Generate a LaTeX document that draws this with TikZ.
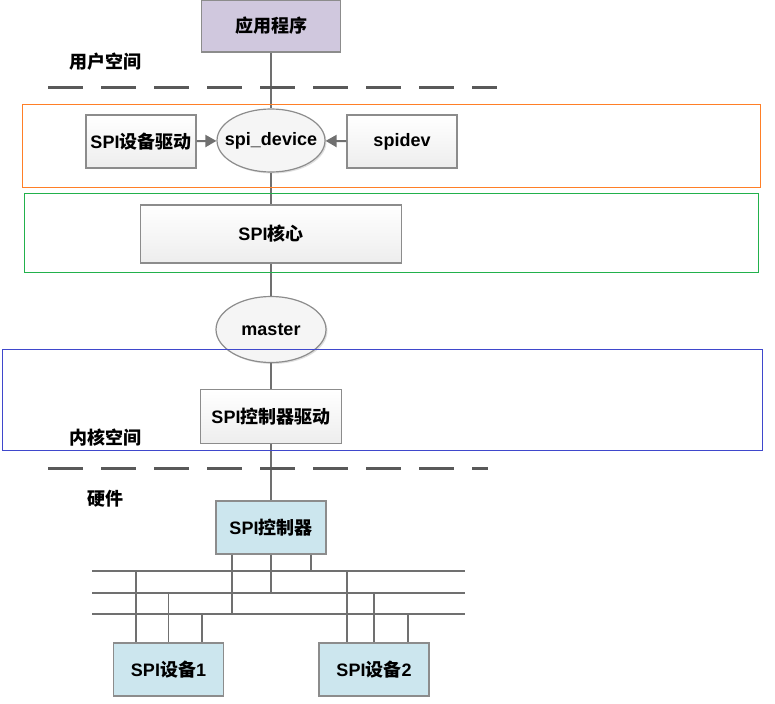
\documentclass[tikz,border=0pt]{standalone}
\usepackage{fontspec}
\usetikzlibrary{shapes.geometric,arrows.meta,shadows}
\setmainfont{Liberation Sans}
\newfontfamily\cjk{Noto Sans CJK SC Bold}
\newcommand\zh[1]{{\cjk #1}}
\definecolor{linkgray}{HTML}{707070}
\definecolor{boxedge}{HTML}{8C8C8C}
\definecolor{appfill}{HTML}{D0C8DE}
\definecolor{hwfill}{HTML}{CCE6EE}
\definecolor{userorange}{HTML}{FF7F27}
\definecolor{coregreen}{HTML}{22B14C}
\definecolor{kernblue}{HTML}{3F48CC}

\begin{document}
\begin{tikzpicture}[x=1pt,y=-1pt,
  label font/.style={font=\bfseries\fontsize{18}{21}\selectfont},
  plainbox/.style={draw=boxedge,line width=1.2pt,label font,inner sep=0pt,minimum height=53pt},
  swbox/.style={plainbox,top color=white,bottom color=gray!14},
  oval/.style={ellipse,draw=boxedge,line width=1.2pt,fill=gray!8,label font,
    inner xsep=-10pt,inner ysep=-5pt,
    drop shadow={shadow xshift=1.5pt,shadow yshift=-1.5pt,opacity=.25}},
  hwbox/.style={plainbox,fill=hwfill,minimum width=110pt},
  link/.style={draw=linkgray,line width=2pt},
  bus/.style={link,line width=1.8pt},
  feed/.style={link,-{Triangle[length=11pt,width=12pt]}},
  split/.style={draw=gray!70!black,line width=3pt,dash pattern=on 35pt off 18pt},
  area/.style={line width=1pt}]
\path[use as bounding box] (0,0) rectangle (775,703);

% software stack
\node[plainbox,fill=appfill,minimum width=139pt,minimum height=52pt] (app) at (271,26) {\zh{应用程序}};
\node[swbox,minimum width=110pt] (devdrv) at (141,141.5) {SPI\zh{设备驱动}};
\node[oval,minimum width=108pt,minimum height=63pt] (spidevice) at (271,140.5) {spi\_device};
\node[swbox,minimum width=110pt] (spidev) at (402,141.5) {spidev};
\node[swbox,minimum width=261pt,minimum height=58pt] (core) at (271,234) {SPI\zh{核心}};
\node[oval,minimum width=110pt,minimum height=66pt] (master) at (271,329.5) {master};
\node[swbox,minimum width=141pt,minimum height=54pt] (ctrldrv) at (271,416.5) {SPI\zh{控制器驱动}};

% hardware
\node[hwbox] (ctrl) at (271,527.5) {SPI\zh{控制器}};
\node[hwbox] (dev1) at (168.5,669.5) {SPI\zh{设备}1};
\node[hwbox] (dev2) at (374,669.5) {SPI\zh{设备}2};

% space labels
\node[label font] (user) at (105,62) {\zh{用户空间}};
\node[label font] (kernel) at (105,438) {\zh{内核空间}};
\node[label font] (hw) at (105,499) {\zh{硬件}};

% vertical path
\draw[link] (app) -- (spidevice);
\draw[link] (spidevice) -- (core);
\draw[link] (core) -- (master);
\draw[link] (master) -- (ctrldrv);
\draw[link] (ctrldrv) -- (ctrl);
\draw[feed] (devdrv) -- (spidevice);
\draw[feed] (spidev) -- (spidevice);

% bus
\coordinate (busa) at (92,571);
\coordinate (busb) at (92,593);
\coordinate (busc) at (92,614);
\draw[bus] (busa) -- ++(373,0);
\draw[bus] (busb) -- ++(373,0);
\draw[bus] (busc) -- ++(373,0);
\draw[bus] ([xshift=-39pt]ctrl.south) -- ([xshift=-39pt]ctrl.south |- busc);
\draw[bus] (ctrl.south) -- (ctrl.south |- busb);
\draw[bus] ([xshift=40pt]ctrl.south) -- ([xshift=40pt]ctrl.south |- busa);
\draw[bus] ([xshift=-32.5pt]dev1.north |- busa) -- ([xshift=-32.5pt]dev1.north);
\draw[bus] (dev1.north |- busb) -- (dev1.north);
\draw[bus] ([xshift=33.5pt]dev1.north |- busc) -- ([xshift=33.5pt]dev1.north);
\draw[bus] ([xshift=-27pt]dev2.north |- busa) -- ([xshift=-27pt]dev2.north);
\draw[bus] (dev2.north |- busb) -- (dev2.north);
\draw[bus] ([xshift=34pt]dev2.north |- busc) -- ([xshift=34pt]dev2.north);

% space borders
\draw[split] (48,87.5) -- (497,87.5);
\draw[split] (48,468) -- (488,468);
\draw[area,userorange] (22,104.5) rectangle (760.5,188);
\draw[area,coregreen] (24,194) rectangle (758,272);
\draw[area,kernblue] (2.5,349) rectangle (762,450);
\end{tikzpicture}
\end{document}
